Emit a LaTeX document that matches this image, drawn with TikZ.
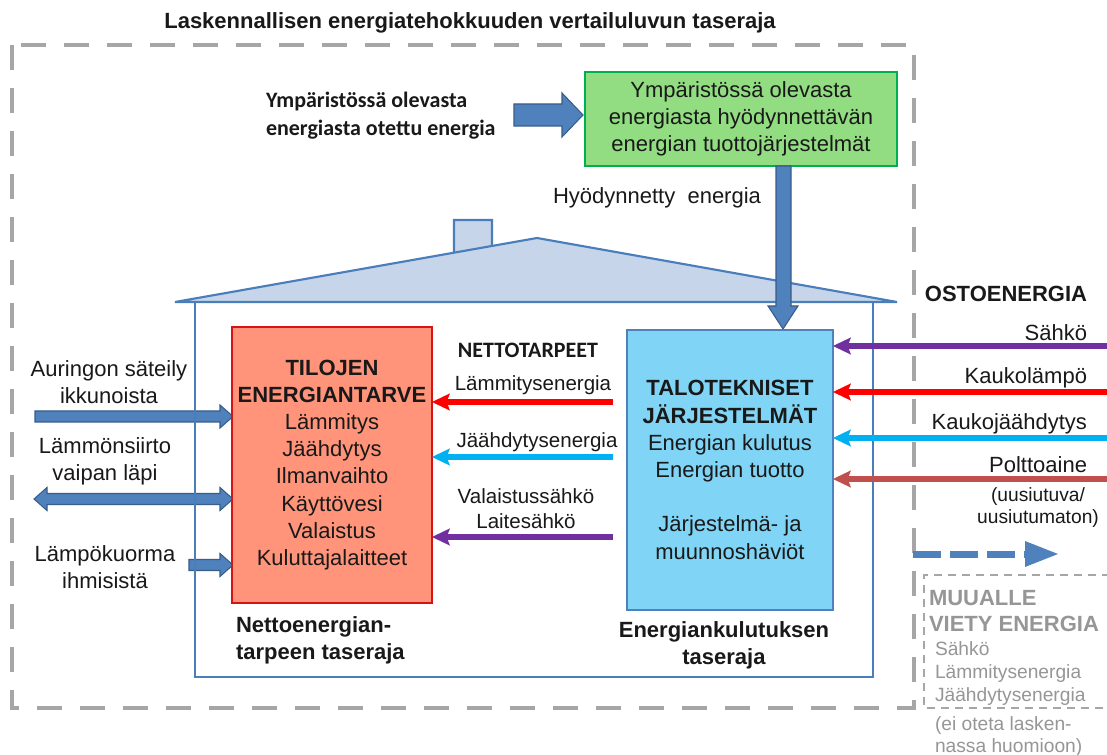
\documentclass[tikz,border=0pt]{standalone}
\usepackage{fontspec}
\setmainfont{Liberation Sans}
\newfontfamily\calib{Carlito}
\usetikzlibrary{arrows.meta}
\definecolor{housefill}{RGB}{198,213,234}
\definecolor{houseedge}{RGB}{74,126,187}
\definecolor{barfill}{RGB}{79,129,189}
\definecolor{barline}{RGB}{56,93,138}
\definecolor{greenfill}{RGB}{146,221,130}
\definecolor{greenline}{RGB}{0,176,80}
\definecolor{redfill}{RGB}{255,148,122}
\definecolor{redline}{RGB}{215,20,20}
\definecolor{bluefill}{RGB}{128,212,245}
\definecolor{blueline}{RGB}{79,129,189}
\definecolor{arrred}{RGB}{255,0,0}
\definecolor{arrcyan}{RGB}{0,176,240}
\definecolor{arrpurple}{RGB}{112,48,160}
\definecolor{arrbrown}{RGB}{192,80,77}
\definecolor{dashgray}{RGB}{166,166,166}
\definecolor{graytext}{RGB}{150,150,150}
\definecolor{ink}{RGB}{25,25,25}
\newcommand\dgfs[2]{\fontsize{#1}{#2}\selectfont}
\newcommand\dgRArrow[6]{\filldraw[blockarr] (#1,#3-#4) -- (#2-#6,#3-#4) -- (#2-#6,#3-#5) -- (#2,#3) -- (#2-#6,#3+#5) -- (#2-#6,#3+#4) -- (#1,#3+#4) -- cycle;}
\begin{document}
\begin{tikzpicture}[x=0.75pt,y=-0.75pt,
  every node/.style={inner sep=0pt, outer sep=0pt, text=ink, font=\dgfs{16.5pt}{20.4pt}},
  outerbox/.style={draw=dashgray, line width=3pt, dash pattern=on 18.75pt off 13.5pt},
  smallbox/.style={draw=dashgray, line width=1.4pt, dash pattern=on 6pt off 4.5pt},
  houseshape/.style={draw=houseedge, fill=housefill, line width=1.6pt},
  wall/.style={draw=houseedge, line width=1.6pt},
  blockarr/.style={fill=barfill, draw=barline, line width=0.8pt},
  greenbox/.style={draw=greenline, fill=greenfill, line width=1.6pt, align=center},
  redbox/.style={draw=redline, fill=redfill, line width=1.6pt, align=center},
  bluebox/.style={draw=blueline, fill=bluefill, line width=1.6pt, align=center},
  flowarr/.style={line width=4pt, -{Stealth[length=13.5pt, width=13pt, inset=2.5pt, line width=0pt]}},
  bluedash/.style={draw=barfill, line width=5.25pt, dash pattern=on 21pt off 6.75pt, -{Triangle[length=24.75pt, width=19.5pt, line width=0pt]}},
  boldlbl/.style={font=\bfseries\dgfs{16.5pt}{20.25pt}},
  midlbl/.style={font=\dgfs{15.4pt}{18.75pt}},
  sidelbl/.style={font=\dgfs{16.5pt}{20.25pt}, align=center},
  graylbl/.style={text=graytext, anchor=west, align=left}
]
\useasboundingbox (0,0) rectangle (1107,755);
\fill[white] (0,0) rectangle (1107,755);

% outer boundary
\draw[outerbox] (12,45) rectangle (914,708);
\node[font=\bfseries\dgfs{16.5pt}{20pt}] (title) at (470,23) {Laskennallisen energiatehokkuuden vertailuluvun taseraja};

% exported energy box
\draw[smallbox] (1110,575) -- (924,575) -- (924,708) -- (1110,708);

% house
\filldraw[houseshape] (454,256) -- (454,220) -- (492,220) -- (492,249) -- cycle;
\filldraw[houseshape] (175,302) -- (537,238) -- (897,302) -- cycle;

% green production box
\node[greenbox, minimum width=234pt, minimum height=70.5pt] (green) at (741,119)
  {Ympäristössä olevasta\\energiasta hyödynnettävän\\energian tuottojärjestelmät};
\node[anchor=west, align=left, font=\calib\bfseries\dgfs{16.5pt}{21pt}] (envtxt) at (266,116)
  {Ympäristössä olevasta\\energiasta otettu energia};
\dgRArrow{514}{583}{115}{11}{22}{21}
\node (hyod) at (657,198) {Hyödynnetty\ \ energia};

% vertical arrow to building services
\filldraw[blockarr] (776,166) -- (776,306) -- (768,306) -- (783,329) -- (798,306) -- (791,306) -- (791,166) -- cycle;

% left block arrows
\dgRArrow{35}{233}{416.5}{5.5}{11.5}{13}
\filldraw[blockarr] (34,499) -- (47,487.5) -- (47,493.5) -- (220,493.5) -- (220,487.5) -- (233,499)
  -- (220,510.5) -- (220,504.5) -- (47,504.5) -- (47,510.5) -- cycle;
\dgRArrow{189}{233}{565}{5.5}{11.5}{13}

% walls
\draw[wall] (195,302) -- (195,677) -- (873,677) -- (873,302);

% main boxes
\node[redbox, minimum width=150pt, minimum height=207pt] (red) at (332,465)
  {\textbf{TILOJEN}\\\textbf{ENERGIANTARVE}\\Lämmitys\\Jäähdytys\\Ilmanvaihto\\Käyttövesi\\Valaistus\\Kuluttajalaitteet};
\node[bluebox, minimum width=154.5pt, minimum height=210pt] (blue) at (730,470)
  {\textbf{TALOTEKNISET}\\\textbf{JÄRJESTELMÄT}\\Energian kulutus\\Energian tuotto\\[20.4pt]Järjestelmä- ja\\muunnoshäviöt};

\node[boldlbl, anchor=west, align=left] (nettolbl) at (236,640) {Nettoenergian-\\tarpeen taseraja};
\node[boldlbl, align=center] (kulutuslbl) at (724,645) {Energiankulutuksen\\taseraja};

% net demand arrows
\node[font=\calib\bfseries\dgfs{16.5pt}{20pt}] (netto) at (528,350) {NETTOTARPEET};
\node[midlbl] (lmid1) at (533,385) {Lämmitysenergia};
\node[midlbl] (lmid2) at (537,442) {Jäähdytysenergia};
\node[midlbl, align=center] (lmid3) at (526,509) {Valaistussähkö\\Laitesähkö};
\coordinate (m1) at (613,402);
\coordinate (m2) at (613,457);
\coordinate (m3) at (613,537);
\draw[flowarr, draw=arrred, fill=arrred] (m1) -- (red.east |- m1);
\draw[flowarr, draw=arrcyan, fill=arrcyan] (m2) -- (red.east |- m2);
\draw[flowarr, draw=arrpurple, fill=arrpurple] (m3) -- (red.east |- m3);

% purchased energy
\node[font=\bfseries\dgfs{16.5pt}{20pt}] (osto) at (1006,294) {OSTOENERGIA};
\node[anchor=east] (rs1) at (1087,333) {Sähkö};
\node[anchor=east] (rs2) at (1087,378) {Kaukolämpö};
\node[anchor=east] (rs3) at (1087,424) {Kaukojäähdytys};
\node[anchor=east] (rs4) at (1087,465) {Polttoaine};
\node[align=center, font=\dgfs{14.4pt}{16.5pt}] (rs5) at (1038,508) {(uusiutuva/\\uusiutumaton)};
\coordinate (e1) at (1110,346);
\coordinate (e2) at (1110,392);
\coordinate (e3) at (1110,438);
\coordinate (e4) at (1110,479);
\draw[flowarr, draw=arrpurple, fill=arrpurple] (e1) -- (blue.east |- e1);
\draw[flowarr, draw=arrred, fill=arrred] (e2) -- (blue.east |- e2);
\draw[flowarr, draw=arrcyan, fill=arrcyan] (e3) -- (blue.east |- e3);
\draw[flowarr, draw=arrbrown, fill=arrbrown] (e4) -- (blue.east |- e4);

% left labels
\node[sidelbl] (ll1) at (109,382) {Auringon säteily\\ikkunoista};
\node[sidelbl] (ll2) at (105,461) {Lämmönsiirto\\vaipan läpi};
\node[sidelbl] (ll3) at (105,567) {Lämpökuorma\\ihmisistä};

% exported energy
\coordinate (x0) at (913,554);
\coordinate (x1) at (1058,554);
\draw[bluedash] (x0) -- (x1);
\node[graylbl, font=\bfseries\dgfs{16.5pt}{19.5pt}] (muu1) at (929,611) {MUUALLE\\VIETY ENERGIA};
\node[graylbl, font=\dgfs{14.4pt}{17.25pt}] (muu2) at (935,674) {Sähkö\\Lämmitysenergia\\Jäähdytysenergia};
\node[graylbl, font=\dgfs{14.4pt}{16.5pt}] (muu3) at (935,737) {(ei oteta lasken-\\nassa huomioon)};
\end{tikzpicture}
\end{document}
